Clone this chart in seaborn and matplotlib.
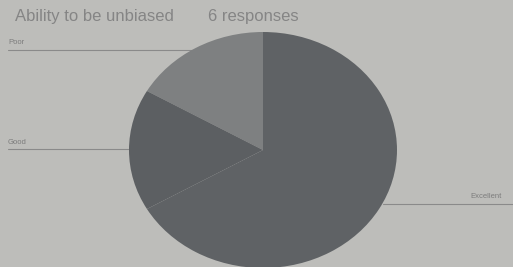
import matplotlib
matplotlib.use("Agg")
import matplotlib.pyplot as plt
import seaborn as sns

title = "Ability to be unbiased"
subtitle = "6 responses"
categories = ["Poor", "Good", "Excellent"]
counts = [1, 1, 4]

sns.set_theme(style="white")
plt.rcParams['font.family'] = ['Liberation Sans', 'DejaVu Sans']

bg = "#bdbdba"
colors = ["#7e8081", "#5c5f62", "#5f6265"]

W, H = 513, 267
fig = plt.figure(figsize=(W / 100, H / 100), dpi=100, facecolor=bg)

# overlay axes in pixel coordinates for text and leader lines
ov = fig.add_axes([0, 0, 1, 1])
ov.set_xlim(0, W)
ov.set_ylim(H, 0)
ov.axis("off")
ov.set_facecolor(bg)

# pie axes (photographed ellipse)
cx, cy, rx, ry = 263, 150, 134, 118
pax = fig.add_axes([(cx - rx) / W, (H - cy - ry) / H, 2 * rx / W, 2 * ry / H])
pax.pie(counts, colors=colors, startangle=90, counterclock=True,
        wedgeprops=dict(linewidth=0))
pax.set_aspect("auto")
pax.set_xlim(-1, 1)
pax.set_ylim(-1, 1)
pax.axis("off")

txt_c = "#7c7c7c"
ov.text(15, 16, title, fontsize=12, color="#858585", va="center", ha="left")
ov.text(208, 16, subtitle, fontsize=12, color="#858585", va="center", ha="left")

label_pos = {
    "Poor": dict(tx=8, ty=43, line=(8, 205, 50), ha="left"),
    "Good": dict(tx=8, ty=143, line=(8, 130, 149), ha="left"),
    "Excellent": dict(tx=470, ty=197, line=(383, 513, 204), ha="left"),
}
for cat in categories:
    p = label_pos[cat]
    ov.text(p["tx"], p["ty"], cat, fontsize=5.5, color=txt_c, va="center", ha=p["ha"])
    x0, x1, y = p["line"]
    ov.plot([x0, x1], [y, y], color="#8a8a8a", lw=0.8)

fig.savefig("out.png", dpi=100, facecolor=bg)
